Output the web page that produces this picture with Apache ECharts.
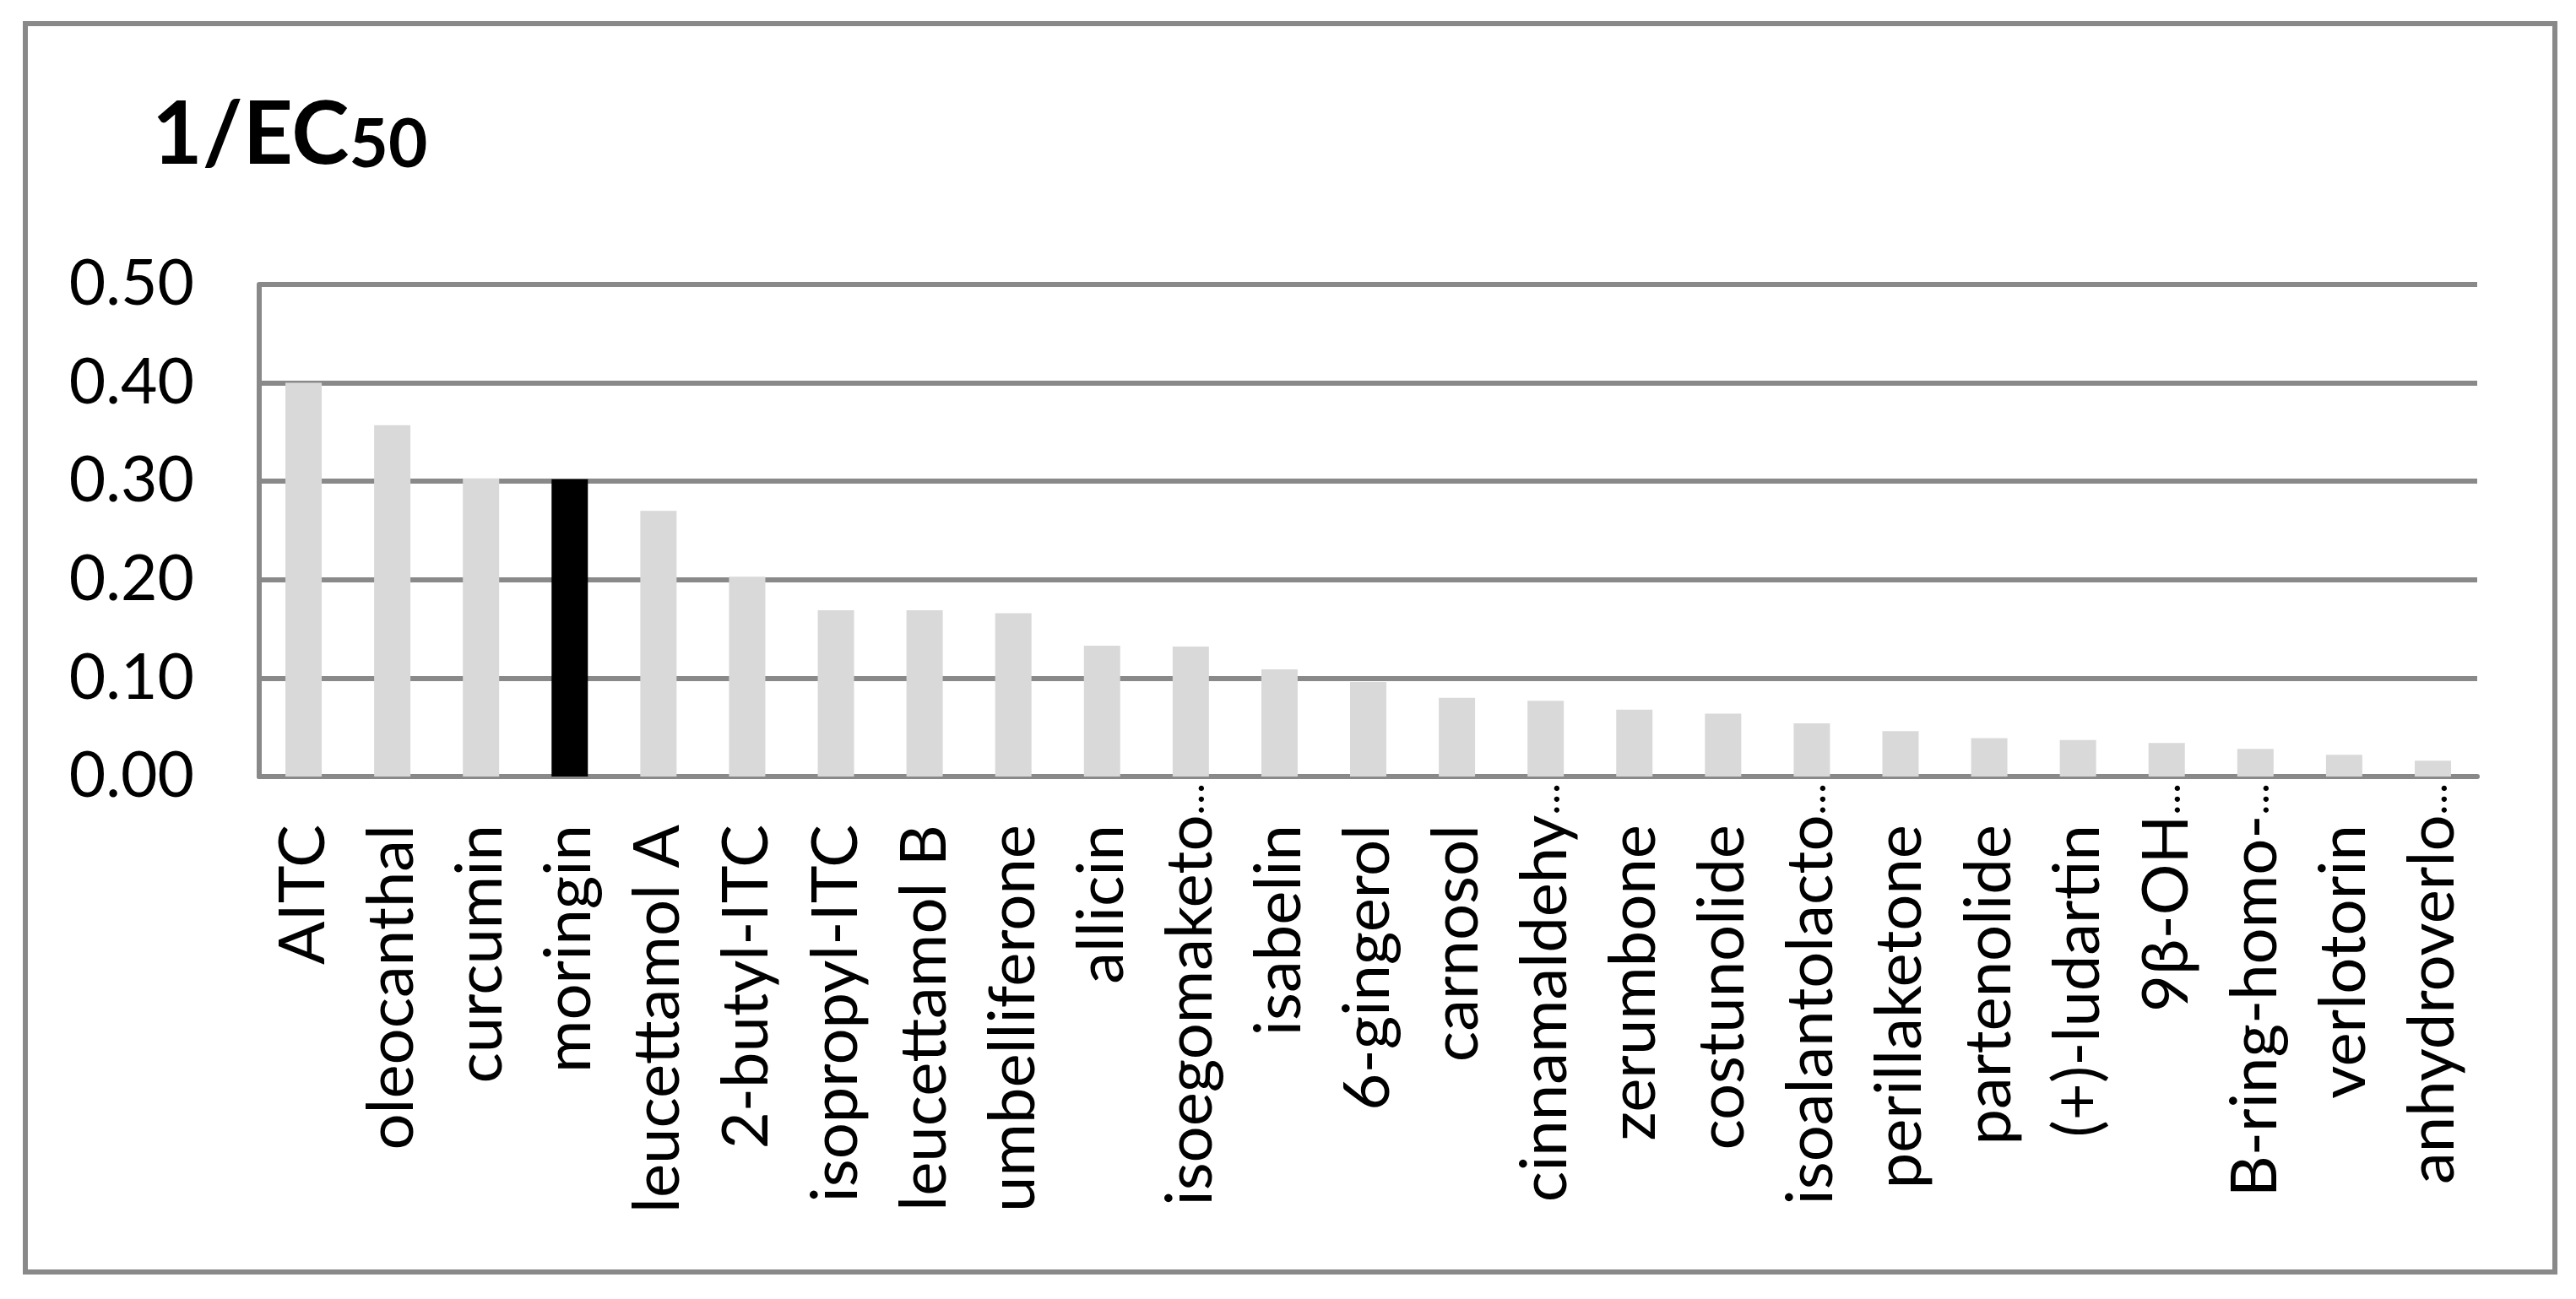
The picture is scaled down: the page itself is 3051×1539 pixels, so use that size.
<!DOCTYPE html>
<html>
<head>
<meta charset="utf-8">
<script src="https://cdn.jsdelivr.net/npm/echarts@6/dist/echarts.min.js"></script>
<style>
  html, body { margin: 0; padding: 0; background: #ffffff; }
  #chart { width: 3051px; height: 1539px; }
</style>
</head>
<body>
<div id="chart"></div>
<script>
// ---- data ----
const categories = [
  'AITC', 'oleocanthal', 'curcumin', 'moringin', 'leucettamol A',
  '2-butyl-ITC', 'isopropyl-ITC', 'leucettamol B', 'umbelliferone', 'allicin',
  'isoegomaketo…', 'isabelin', '6-gingerol', 'carnosol', 'cinnamaldehy…',
  'zerumbone', 'costunolide', 'isoalantolacto…', 'perillaketone', 'partenolide',
  '(+)-ludartin', '9β-OH…', 'B-ring-homo-…', 'verlotorin', 'anhydroverlo…'
];
const values = [
  0.400, 0.357, 0.303, 0.302, 0.270,
  0.203, 0.169, 0.169, 0.166, 0.133,
  0.132, 0.109, 0.096, 0.080, 0.077,
  0.068, 0.064, 0.054, 0.046, 0.039,
  0.037, 0.034, 0.028, 0.022, 0.016
];
const highlighted = 'moringin';
const yTicks = [0, 0.1, 0.2, 0.3, 0.4, 0.5];

const FONT = 'Lato';
const GRAY = '#898989';

const chart = echarts.init(document.getElementById('chart'), null, { renderer: 'canvas' });
chart.setOption({
  backgroundColor: '#ffffff',
  animation: false,
  title: {
    text: '{a|1/EC}{b|50}',
    left: 180,
    top: 102,
    padding: 0,
    textStyle: {
      rich: {
        a: { fontFamily: FONT, fontWeight: 'bold', fontSize: 103, lineHeight: 110, color: '#000', verticalAlign: 'bottom' },
        b: { fontFamily: FONT, fontWeight: 'bold', fontSize: 80, lineHeight: 95, color: '#000', verticalAlign: 'bottom' }
      }
    }
  },
  graphic: [{
    type: 'rect',
    z: -10,
    shape: { x: 30, y: 28, width: 2996, height: 1479 },
    style: { fill: 'none', stroke: GRAY, lineWidth: 6 }
  }],
  grid: { left: 307, right: 117, top: 337, bottom: 619, containLabel: false },
  xAxis: {
    type: 'category',
    data: categories,
    axisLine: { show: true, lineStyle: { color: GRAY, width: 6 } },
    axisTick: { show: false },
    axisLabel: {
      interval: 0,
      rotate: 90,
      margin: 8,
      formatter: function (v) {
        if (v.endsWith('…')) return '{t|' + v.slice(0, -1) + '}{e|…}';
        return '{n|' + v + '}';
      },
      rich: {
        n: { fontFamily: FONT, fontSize: 76, color: '#000', padding: [0, 49, 0, 0] },
        t: { fontFamily: FONT, fontSize: 76, color: '#000' },
        e: { fontFamily: FONT, fontSize: 50, color: '#000' }
      }
    }
  },
  yAxis: {
    type: 'value',
    min: 0,
    max: 0.5,
    interval: 0.1,
    axisLine: { show: true, lineStyle: { color: GRAY, width: 6 } },
    axisTick: { show: false },
    splitLine: { show: true, lineStyle: { color: GRAY, width: 6 } },
    axisLabel: {
      margin: 77,
      fontFamily: FONT,
      fontSize: 75,
      color: '#000',
      formatter: function (v) { return v.toFixed(2); },
      customValues: yTicks
    }
  },
  series: [{
    type: 'bar',
    data: values,
    barWidth: 43,
    itemStyle: {
      color: function (p) { return p.name === highlighted ? '#000000' : '#d9d9d9'; }
    }
  }]
});
</script>
</body>
</html>
